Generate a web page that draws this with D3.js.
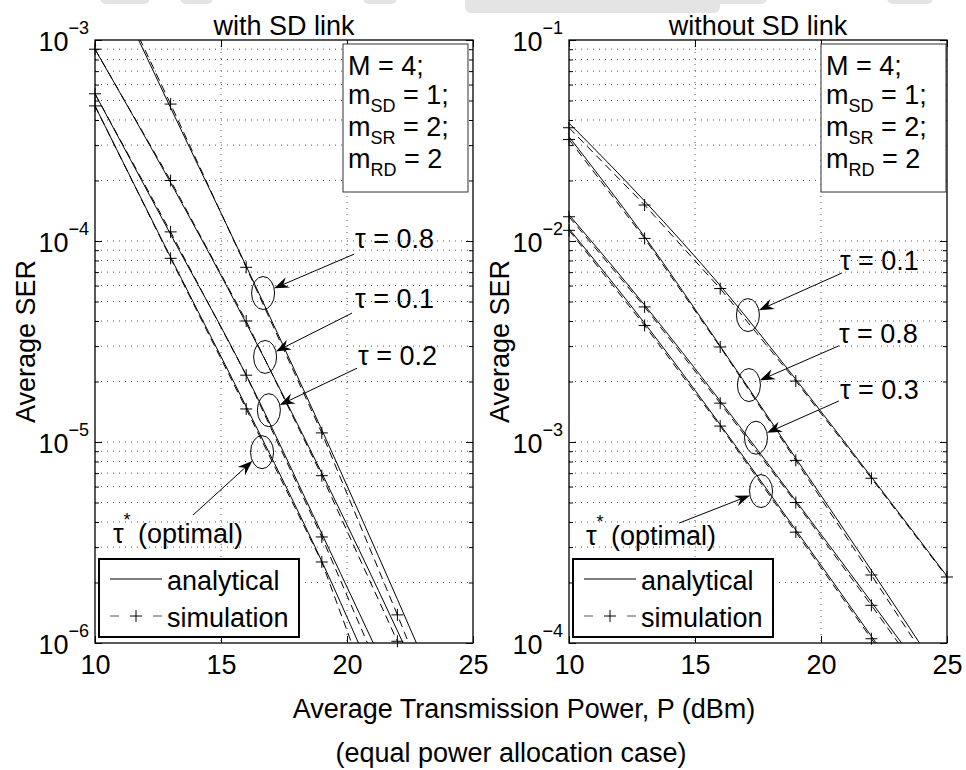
<!DOCTYPE html>
<html>
<head>
<meta charset="utf-8">
<script src="https://cdn.jsdelivr.net/npm/d3@7"></script>
<style>
body { margin: 0; background: #fff; }
svg { display: block; font-family: "Liberation Sans", Arial, Helvetica, sans-serif; }
</style>
</head>
<body>
<svg id="chart" width="966" height="770"></svg>
<script>
// transmit power (dBm)
const powerAna = [10, 13, 16, 19, 22, 25];
const powerSim = [10, 13, 16, 19, 22, 25];
const xTicks = [10, 15, 20, 25];

// with SD link : tau = 0.8, 0.1, 0.2, optimal
const withAna08 = [2.9e-3, 4.6e-4, 7.5e-5, 1.15e-5, 1.65e-6, 2.2e-7];
const withSim08 = [3.0e-3, 4.8e-4, 7.4e-5, 1.11e-5, 1.38e-6, 1.6e-7];
const withAna01 = [9.0e-4, 1.95e-4, 3.9e-5, 7.0e-6, 1.15e-6, 1.7e-7];
const withSim01 = [9.0e-4, 2.0e-4, 4.0e-5, 6.8e-6, 1.02e-6, 1.3e-7];
const withAna02 = [5.4e-4, 1.08e-4, 2.15e-5, 3.5e-6, 5.5e-7, 8e-8];
const withSim02 = [5.4e-4, 1.11e-4, 2.15e-5, 3.37e-6, 4.5e-7, 5e-8];
const withAnaOpt = [4.7e-4, 8.3e-5, 1.5e-5, 2.55e-6, 3.6e-7, 5e-8];
const withSimOpt = [4.7e-4, 8.2e-5, 1.46e-5, 2.53e-6, 2.4e-7, 3e-8];

// without SD link : tau = 0.1, 0.8, 0.3, optimal
const woAna01 = [3.86e-2, 1.58e-2, 6.0e-3, 2.05e-3, 6.7e-4, 2.15e-4];
const woSim01 = [3.66e-2, 1.51e-2, 5.8e-3, 2.01e-3, 6.6e-4, 2.13e-4];
const woAna08 = [3.3e-2, 1.05e-2, 3.0e-3, 8.3e-4, 2.3e-4, 6.2e-5];
const woSim08 = [3.2e-2, 1.03e-2, 2.97e-3, 8.1e-4, 2.18e-4, 5.8e-5];
const woAna03 = [1.35e-2, 4.8e-3, 1.6e-3, 5.1e-4, 1.6e-4, 4.9e-5];
const woSim03 = [1.32e-2, 4.7e-3, 1.56e-3, 5.0e-4, 1.54e-4, 4.6e-5];
const woAnaOpt = [1.15e-2, 3.9e-3, 1.22e-3, 3.65e-4, 1.08e-4, 3.1e-5];
const woSimOpt = [1.13e-2, 3.8e-3, 1.2e-3, 3.56e-4, 1.05e-4, 3.0e-5];

// annotations (data units): label, ellipse centre, label anchor, arrow start
const withNoteLabel = ["0.8", "0.1", "0.2", "*"];
const withNoteCx = [16.67, 16.75, 16.90, 16.63];
const withNoteCy = [5.51e-5, 2.65e-5, 1.44e-5, 8.9e-6];
const withNoteLx = [20.32, 20.32, 20.44, 10.71];
const withNoteLy = [9.2e-5, 4.65e-5, 2.42e-5, 3.15e-6];
const withNoteAx = [20.28, 20.20, 20.40, 13.89];
const withNoteAy = [8.6e-5, 4.38e-5, 2.33e-5, 4.33e-6];

const woNoteLabel = ["0.1", "0.8", "0.3", "*"];
const woNoteCx = [17.10, 17.14, 17.42, 17.62];
const woNoteCy = [4.28e-3, 1.92e-3, 1.05e-3, 5.70e-4];
const woNoteLx = [20.75, 20.71, 20.75, 10.67];
const woNoteLy = [7.18e-3, 3.11e-3, 1.64e-3, 3.08e-4];
const woNoteAx = [20.83, 20.71, 20.71, 14.37];
const woNoteAy = [6.93e-3, 3.01e-3, 1.60e-3, 3.95e-4];

// parameter box
const paramName = ["M", "m", "m", "m"];
const paramSub = ["", "SD", "SR", "RD"];
const paramVal = ["4;", "1;", "2;", "2"];

const legendLabels = ["analytical", "simulation"];

const svg = d3.select("#chart");
const FS = 27, FS_SMALL = 18;
const plotTop = 40, plotBottom = 643, plotW = 378;

// faint remnants of a cropped row along the top edge
[[100, 50, 4], [180, 33, 4], [363, 34, 4], [465, 255, 13], [700, 67, 4], [887, 46, 4]].forEach(r => {
  svg.append("rect").attr("x", r[0]).attr("y", -8).attr("width", r[1]).attr("height", r[2] + 8)
    .attr("rx", 6).attr("fill", "#e4e4e4");
});

function drawPanel(p) {
  const g = svg.append("g");
  const x = d3.scaleLinear().domain([10, 25]).range([p.left, p.left + plotW]);
  const y = d3.scaleLog().domain(p.yDomain).range([plotBottom, plotTop]);
  const x0 = p.left, x1 = p.left + plotW;

  svg.append("clipPath").attr("id", "clip-" + p.id).append("rect")
    .attr("x", x0).attr("y", plotTop).attr("width", plotW).attr("height", plotBottom - plotTop);

  const lo = Math.round(Math.log10(p.yDomain[0])), hi = Math.round(Math.log10(p.yDomain[1]));
  const decades = d3.range(lo, hi + 1).map(e => Math.pow(10, e));
  const minor = [];
  for (let e = lo; e < hi; e++) for (let k = 2; k < 10; k++) minor.push(k * Math.pow(10, e));

  // grid
  g.append("g").selectAll("line").data(minor.concat(decades.slice(1, -1))).join("line")
    .attr("x1", x0).attr("x2", x1).attr("y1", d => y(d)).attr("y2", d => y(d))
    .attr("stroke", "#555").attr("stroke-width", 1).attr("stroke-dasharray", "1,5");
  g.append("g").selectAll("line").data(xTicks.slice(1, -1)).join("line")
    .attr("x1", d => x(d)).attr("x2", d => x(d)).attr("y1", plotTop).attr("y2", plotBottom)
    .attr("stroke", "#555").attr("stroke-width", 1).attr("stroke-dasharray", "1,5");

  // ticks, all pointing inward
  const tickAxes = [
    [d3.axisLeft(y).tickValues(decades).tickSize(-7), x0, 0],
    [d3.axisLeft(y).tickValues(minor).tickSize(-4), x0, 0],
    [d3.axisRight(y).tickValues(decades).tickSize(-7), x1, 0],
    [d3.axisRight(y).tickValues(minor).tickSize(-4), x1, 0],
    [d3.axisTop(x).tickValues(xTicks).tickSize(-7), 0, plotTop]
  ];
  tickAxes.forEach(a => {
    const ax = g.append("g").attr("transform", `translate(${a[1]},${a[2]})`)
      .call(a[0].tickFormat(""));
    ax.select(".domain").remove();
    ax.selectAll("line").attr("stroke", "#000");
  });
  const bottom = g.append("g").attr("transform", `translate(0,${plotBottom})`)
    .call(d3.axisBottom(x).tickValues(xTicks).tickSize(-7).tickPadding(12).tickFormat(d3.format("d")));
  bottom.select(".domain").remove();
  bottom.selectAll("line").attr("stroke", "#000");
  bottom.selectAll("text").attr("font-size", FS).attr("font-family", "Liberation Sans, Arial, sans-serif")
    .attr("fill", "#000");

  // y tick labels 10^k
  decades.forEach(v => {
    const t = g.append("text").attr("x", x0 - 6).attr("y", y(v) + 11)
      .attr("text-anchor", "end").attr("font-size", FS);
    t.append("tspan").text("10");
    t.append("tspan").attr("font-size", FS_SMALL).attr("dy", -17)
      .text("\u2212" + Math.abs(Math.round(Math.log10(v))));
  });

  // series
  const clip = g.append("g").attr("clip-path", `url(#clip-${p.id})`);
  const marks = g.append("g");
  const ana = d3.line().x(d => x(d[0])).y(d => y(d[1])).curve(d3.curveMonotoneX);
  const sim = d3.line().x(d => x(d[0])).y(d => y(d[1]));
  p.series.forEach(s => {
    const a = powerAna.map((v, i) => [v, s.ana[i]]);
    const b = powerSim.map((v, i) => [v, s.sim[i]]);
    clip.append("path").attr("d", ana(a)).attr("fill", "none")
      .attr("stroke", "#000").attr("stroke-width", 1);
    clip.append("path").attr("d", sim(b)).attr("fill", "none")
      .attr("stroke", "#000").attr("stroke-width", 1).attr("stroke-dasharray", "8,5");
    marks.selectAll(null)
      .data(b.filter(d => d[1] >= p.yDomain[0] && d[1] <= p.yDomain[1]))
      .join("path")
      .attr("transform", d => `translate(${x(d[0])},${y(d[1])})`)
      .attr("d", "M-6,0H6M0,-6V6").attr("stroke", "#000").attr("stroke-width", 1);
  });

  // box
  g.append("rect").attr("x", x0).attr("y", plotTop).attr("width", plotW)
    .attr("height", plotBottom - plotTop).attr("fill", "none").attr("stroke", "#000").attr("stroke-width", 1.3);

  // title + y label
  g.append("text").attr("x", (x0 + x1) / 2).attr("y", 35).attr("text-anchor", "middle")
    .attr("font-size", FS).text(p.title);
  g.append("text").attr("transform", `translate(${x0 - 60},${(plotTop + plotBottom) / 2}) rotate(-90)`)
    .attr("text-anchor", "middle").attr("font-size", FS).text("Average SER");

  // ellipses and arrows
  const rx = 11.5, ry = 16.5;
  p.notes.label.forEach((lab, i) => {
    const cx = x(p.notes.cx[i]), cy = y(p.notes.cy[i]);
    const sx = x(p.notes.ax[i]), sy = y(p.notes.ay[i]);
    g.append("ellipse").attr("cx", cx).attr("cy", cy).attr("rx", rx).attr("ry", ry)
      .attr("fill", "none").attr("stroke", "#000").attr("stroke-width", 1);
    const dx = sx - cx, dy = sy - cy;
    const t = 1 / Math.sqrt((dx / rx) ** 2 + (dy / ry) ** 2);
    const ex = cx + dx * t, ey = cy + dy * t;
    const ang = Math.atan2(ey - sy, ex - sx);
    g.append("line").attr("x1", sx).attr("y1", sy)
      .attr("x2", ex - 9 * Math.cos(ang)).attr("y2", ey - 9 * Math.sin(ang))
      .attr("stroke", "#000").attr("stroke-width", 1);
    g.append("path").attr("d", "M0,0L-15,-5.5L-10,0L-15,5.5Z").attr("fill", "#000")
      .attr("transform", `translate(${ex},${ey}) rotate(${ang * 180 / Math.PI})`);

    const txt = g.append("text").attr("x", x(p.notes.lx[i])).attr("y", y(p.notes.ly[i]))
      .attr("font-size", FS);
    if (lab === "*") {
      txt.append("tspan").text("\u03c4");
      txt.append("tspan").attr("font-size", FS_SMALL).attr("dy", -17).text("*");
      txt.append("tspan").attr("dy", 17).text(" (optimal)");
    } else {
      txt.text("\u03c4 = " + lab);
    }
  });

  // parameter box
  const bx = x1 - p.boxInset - 125, by = 44;
  g.append("rect").attr("x", bx).attr("y", by).attr("width", 125).attr("height", 148)
    .attr("fill", "#fff").attr("stroke", "#333").attr("stroke-width", 1);
  const baseOff = [31, 60, 92, 124];
  paramName.forEach((n, i) => {
    const t = g.append("text").attr("x", bx + 5).attr("y", by + baseOff[i]).attr("font-size", FS);
    t.append("tspan").text(n);
    if (paramSub[i]) {
      t.append("tspan").attr("font-size", FS_SMALL).attr("dy", 8).text(paramSub[i]);
      t.append("tspan").attr("dy", -8).text(" = " + paramVal[i]);
    } else {
      t.append("tspan").text(" = " + paramVal[i]);
    }
  });

  // legend
  const lx = x0 + 4, ly = 559;
  g.append("rect").attr("x", lx).attr("y", ly).attr("width", 200).attr("height", 78)
    .attr("fill", "#fff").attr("stroke", "#000").attr("stroke-width", 2);
  legendLabels.forEach((lab, i) => {
    const yy = ly + 31 + i * 37;
    const ln = g.append("line").attr("x1", lx + 11).attr("x2", lx + 63)
      .attr("y1", yy - 11).attr("y2", yy - 11).attr("stroke-width", 1);
    if (i === 1) {
      ln.attr("stroke", "#555").attr("stroke-dasharray", "9,34");
      g.append("path").attr("transform", `translate(${lx + 37},${yy - 11})`)
        .attr("d", "M-6,0H6M0,-6V6").attr("stroke", "#000").attr("stroke-width", 1);
    } else {
      ln.attr("stroke", "#000");
    }
    g.append("text").attr("x", lx + 68).attr("y", yy).attr("font-size", FS).text(lab);
  });
}

drawPanel({
  id: "with", left: 95, yDomain: [1e-6, 1e-3], title: "with SD link", boxInset: 5,
  series: [
    { ana: withAna08, sim: withSim08 }, { ana: withAna01, sim: withSim01 },
    { ana: withAna02, sim: withSim02 }, { ana: withAnaOpt, sim: withSimOpt }
  ],
  notes: { label: withNoteLabel, cx: withNoteCx, cy: withNoteCy, lx: withNoteLx, ly: withNoteLy, ax: withNoteAx, ay: withNoteAy }
});

drawPanel({
  id: "without", left: 569, yDomain: [1e-4, 1e-1], title: "without SD link", boxInset: 1,
  series: [
    { ana: woAna01, sim: woSim01 }, { ana: woAna08, sim: woSim08 },
    { ana: woAna03, sim: woSim03 }, { ana: woAnaOpt, sim: woSimOpt }
  ],
  notes: { label: woNoteLabel, cx: woNoteCx, cy: woNoteCy, lx: woNoteLx, ly: woNoteLy, ax: woNoteAx, ay: woNoteAy }
});

// shared x label
svg.append("text").attr("x", 524).attr("y", 718).attr("text-anchor", "middle").attr("font-size", FS)
  .text("Average Transmission Power, P (dBm)");
svg.append("text").attr("x", 511).attr("y", 762).attr("text-anchor", "middle").attr("font-size", FS)
  .text("(equal power allocation case)");
</script>
</body>
</html>
